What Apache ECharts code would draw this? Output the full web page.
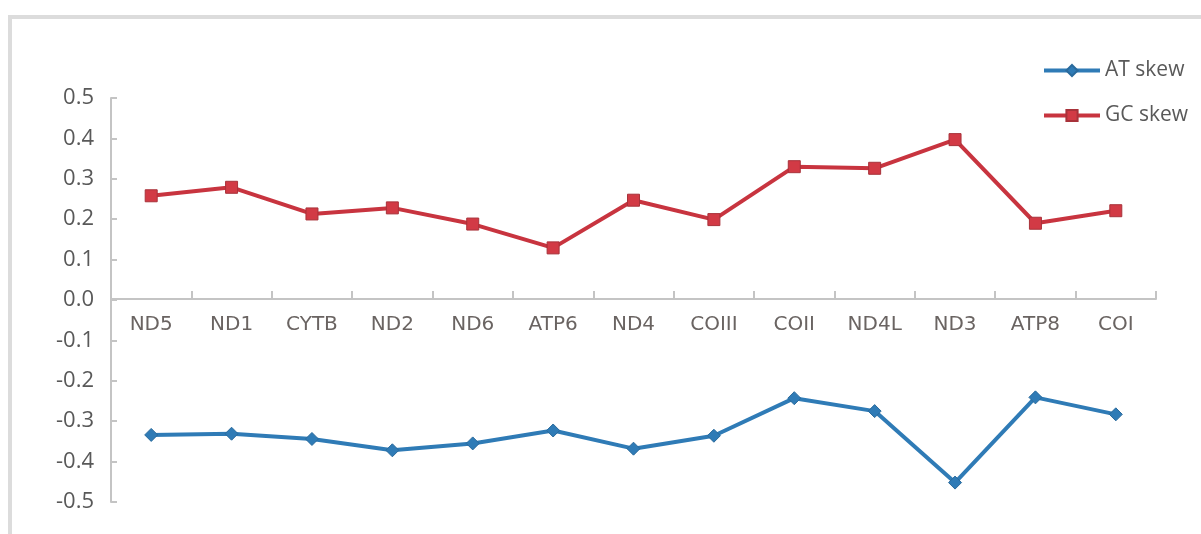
<!DOCTYPE html>
<html>
<head>
<meta charset="utf-8">
<script src="https://cdn.jsdelivr.net/npm/echarts@6/dist/echarts.min.js"></script>
<style>
  html, body { margin: 0; padding: 0; background: #fff; }
  #chart { width: 1201px; height: 534px; }
</style>
</head>
<body>
<div id="chart"></div>
<script>
const genes = ['ND5', 'ND1', 'CYTB', 'ND2', 'ND6', 'ATP6', 'ND4', 'COIII', 'COII', 'ND4L', 'ND3', 'ATP8', 'COI']
const atSkew = [-0.334, -0.331, -0.344, -0.372, -0.355, -0.323, -0.368, -0.336, -0.243, -0.275, -0.452, -0.241, -0.283]
const gcSkew = [0.258, 0.279, 0.213, 0.228, 0.188, 0.129, 0.247, 0.199, 0.330, 0.326, 0.397, 0.190, 0.221]

const mychart = echarts.init(document.getElementById('chart'))

const axisGrey = '#c4c4c4'

const option = {
  backgroundColor: '#fff',
  animation: false,
  graphic: [
    {
      type: 'rect',
      shape: { x: 10, y: 17, width: 1300, height: 700 },
      style: { fill: 'none', stroke: '#dcdcdc', lineWidth: 4 },
      silent: true
    }
  ],
  legend: {
    orient: 'vertical',
    left: 1037,
    top: 55,
    itemWidth: 56,
    itemHeight: 14,
    itemGap: 24,
    data: ['AT skew', 'GC skew'],
    lineStyle: { width: 4 },
    textStyle: {
      color: '#595959',
      fontSize: 21,
      fontFamily: 'Open Sans'
    }
  },
  // main grid holds the series, second grid (upper half) carries the category axis at zero
  grid: [
    { left: 111, right: 45, top: 98, bottom: 32 },
    { left: 111, right: 45, top: 98, bottom: 235 }
  ],
  xAxis: [
    {
      type: 'category',
      gridIndex: 0,
      data: genes,
      show: false
    },
    {
      type: 'category',
      gridIndex: 1,
      data: genes,
      boundaryGap: true,
      axisLine: {
        lineStyle: { color: axisGrey, width: 2 }
      },
      axisTick: {
        show: true,
        inside: true,
        length: 8,
        lineStyle: { color: axisGrey, width: 2 }
      },
      axisLabel: {
        color: '#6a6462',
        fontSize: 20,
        fontFamily: 'DejaVu Sans',
        margin: 16
      },
      splitLine: { show: false }
    }
  ],
  yAxis: [
    {
      type: 'value',
      gridIndex: 0,
      min: -0.5,
      max: 0.5,
      interval: 0.1,
      axisLine: {
        show: true,
        lineStyle: { color: axisGrey, width: 2 }
      },
      axisTick: {
        show: true,
        inside: true,
        length: 6,
        lineStyle: { color: axisGrey, width: 2 }
      },
      axisLabel: {
        color: '#595959',
        fontSize: 22,
        fontFamily: 'Open Sans',
        margin: 17,
        formatter: (v) => v.toFixed(1)
      },
      splitLine: { show: false }
    },
    {
      type: 'value',
      gridIndex: 1,
      min: 0,
      max: 0.5,
      show: false
    }
  ],
  series: [
    {
      name: 'AT skew',
      type: 'line',
      data: atSkew,
      symbol: 'diamond',
      symbolSize: 13,
      lineStyle: { color: '#2f7bb6', width: 4 },
      itemStyle: { color: '#2f7bb6', borderColor: '#2a6a9c', borderWidth: 1 }
    },
    {
      name: 'GC skew',
      type: 'line',
      data: gcSkew,
      symbol: 'rect',
      symbolSize: 12,
      lineStyle: { color: '#c8343f', width: 4 },
      itemStyle: { color: '#d23a45', borderColor: '#a8323a', borderWidth: 1 }
    }
  ]
}
option && mychart.setOption(option)
</script>
</body>
</html>
